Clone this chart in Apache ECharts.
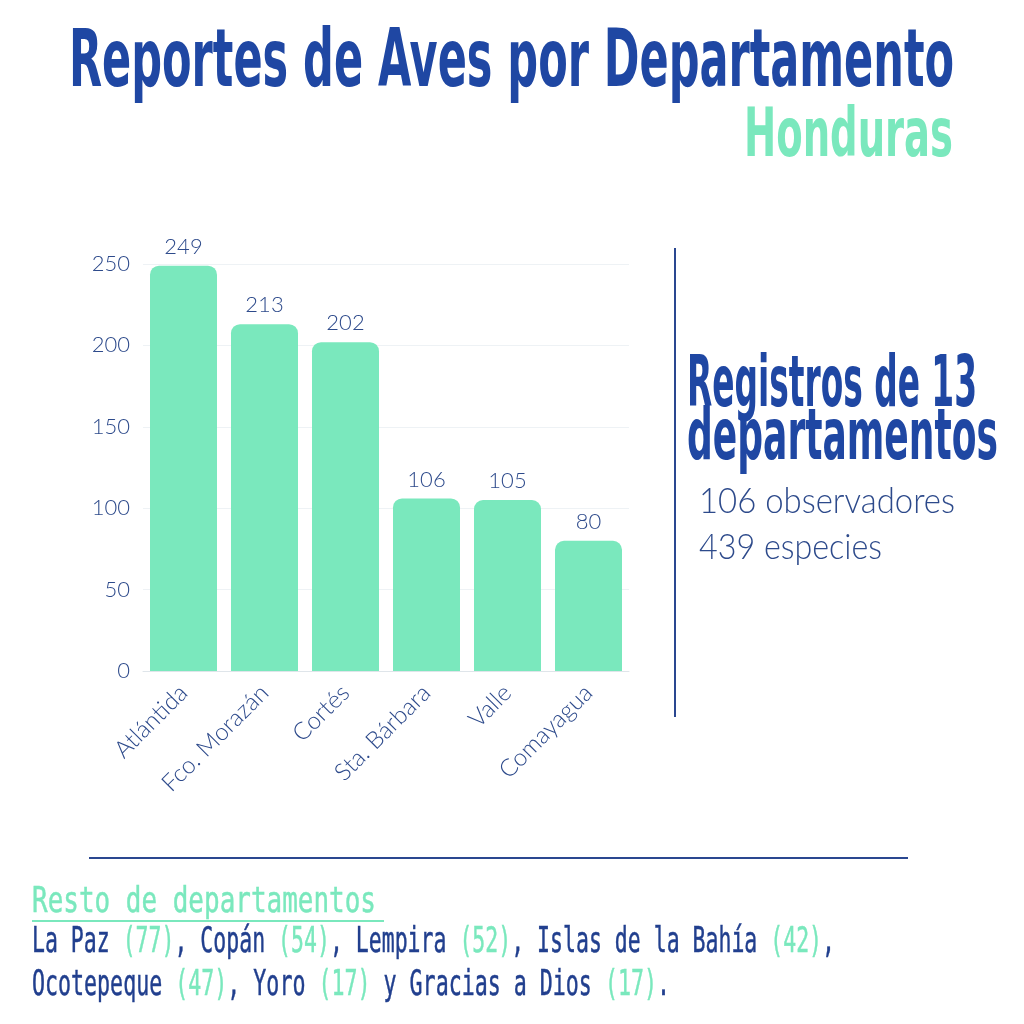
<!DOCTYPE html>
<html><head><meta charset="utf-8">
<script src="https://cdn.jsdelivr.net/npm/echarts@6/dist/echarts.min.js"></script>
<style>html,body{margin:0;padding:0;background:#fff}#c{width:1024px;height:1024px}</style>
</head><body><div id="c"></div>
<script>
// ---- data ----
const categories = ['Atlántida', 'Fco. Morazán', 'Cortés', 'Sta. Bárbara', 'Valle', 'Comayagua'];
const values = [249, 213, 202, 106, 105, 80];
const restNames = ['La Paz', 'Copán', 'Lempira', 'Islas de la Bahía', 'Ocotepeque', 'Yoro', 'Gracias a Dios'];
const restValues = [77, 54, 52, 42, 47, 17, 17];
const deptCount = 13;
const observers = 106;
const species = 439;

// ---- styles ----
const DARK = '#1f47a3';
const MINT = '#7ae8bd';
const TEXT = '#2d4a8b';
const BODY = '#213f8e';
const COND = '"DejaVu Sans Condensed", "DejaVu Sans", sans-serif';
const MONO = '"DejaVu Sans Mono", monospace';
const AX = 'Lato, "Open Sans", sans-serif';

const mctx = document.createElement('canvas').getContext('2d');
function measure(str, weight, size, family) {
  mctx.font = weight + ' ' + size + 'px ' + family;
  return mctx.measureText(str).width;
}
function fitText(opts) {
  const plain = opts.plain || opts.text;
  const w = measure(plain, opts.weight, opts.size, opts.family);
  const sx = opts.width / w;
  const el = {
    type: 'text', x: opts.x, y: opts.y, scaleX: sx, scaleY: 1,
    style: {
      text: opts.text, x: 0, y: 0,
      fontFamily: opts.family, fontSize: opts.size, fontWeight: opts.weight,
      fill: opts.fill, align: opts.align || 'left', verticalAlign: 'middle'
    }
  };
  if (opts.stroke) { el.style.stroke = opts.stroke; el.style.lineWidth = opts.lineWidth; }
  if (opts.rich) el.style.rich = opts.rich;
  return el;
}

// bottom lines
function seg(i) { return restNames[i] + ' {n|(' + restValues[i] + ')}'; }
function segPlain(i) { return restNames[i] + ' (' + restValues[i] + ')'; }
const line1 = [0,1,2,3].map(seg).join(', ') + ',';
const line1p = [0,1,2,3].map(segPlain).join(', ') + ',';
const line2 = seg(4) + ', ' + seg(5) + ' y ' + seg(6) + '.';
const line2p = segPlain(4) + ', ' + segPlain(5) + ' y ' + segPlain(6) + '.';
const richN = { n: { fill: MINT, stroke: MINT, lineWidth: 0.5, fontFamily: MONO, fontSize: 35 } };

const graphics = [
  fitText({ text: 'Reportes de Aves por Departamento', x: 69, y: 65, width: 885, weight: 'bold', size: 80, family: COND, fill: DARK }),
  fitText({ text: 'Honduras', x: 953, y: 138, width: 209, weight: 'bold', size: 68, family: COND, fill: MINT, align: 'right' }),
  { type: 'line', shape: { x1: 675, y1: 248, x2: 675, y2: 717 }, style: { stroke: '#2a4790', lineWidth: 2 } },
  fitText({ text: 'Registros de ' + deptCount, x: 687, y: 387, width: 290, weight: 'bold', size: 72, family: COND, fill: DARK }),
  fitText({ text: 'departamentos', x: 687, y: 440, width: 311, weight: 'bold', size: 72, family: COND, fill: DARK }),
  fitText({ text: observers + ' observadores', x: 699, y: 502, width: 256, weight: '300', size: 35, family: AX, fill: TEXT }),
  fitText({ text: species + ' especies', x: 699, y: 548, width: 183, weight: '300', size: 35, family: AX, fill: TEXT }),
  { type: 'line', shape: { x1: 89, y1: 858, x2: 908, y2: 858 }, style: { stroke: '#2a4790', lineWidth: 2 } },
  fitText({ text: 'Resto de departamentos', x: 32, y: 903, width: 344, weight: 'normal', size: 36, family: MONO, fill: MINT, stroke: MINT, lineWidth: 0.5 }),
  { type: 'line', shape: { x1: 32, y1: 921, x2: 384, y2: 921 }, style: { stroke: MINT, lineWidth: 2 } },
  fitText({ text: line1, plain: line1p, x: 32, y: 943, width: 803, weight: 'normal', size: 35, family: MONO, fill: BODY, stroke: BODY, lineWidth: 0.5, rich: richN }),
  fitText({ text: line2, plain: line2p, x: 32, y: 986, width: 638, weight: 'normal', size: 35, family: MONO, fill: BODY, stroke: BODY, lineWidth: 0.5, rich: richN })
];

const chart = echarts.init(document.getElementById('c'));
chart.setOption({
  backgroundColor: '#ffffff',
  animation: false,
  grid: { left: 143, right: 395, top: 264, bottom: 353, containLabel: false },
  xAxis: {
    type: 'category', data: categories,
    axisLine: { show: true, lineStyle: { color: '#dfe5ea', width: 1 } },
    axisTick: { show: false },
    axisLabel: { rotate: 45, margin: 18, fontSize: 24, fontWeight: 300, fontFamily: AX, color: TEXT }
  },
  yAxis: {
    type: 'value', min: 0, max: 250, interval: 50,
    axisLine: { show: false }, axisTick: { show: false },
    splitLine: { lineStyle: { color: '#eef2f5', width: 1 } },
    axisLabel: { margin: 13, fontSize: 22, fontWeight: 300, fontFamily: AX, color: TEXT }
  },
  series: [{
    type: 'bar', data: values, barWidth: 67,
    itemStyle: { color: MINT, borderRadius: [9, 9, 0, 0] },
    label: { show: true, position: 'top', distance: 8, fontSize: 22, fontWeight: 300, fontFamily: AX, color: TEXT }
  }],
  graphic: graphics
});
</script></body></html>
